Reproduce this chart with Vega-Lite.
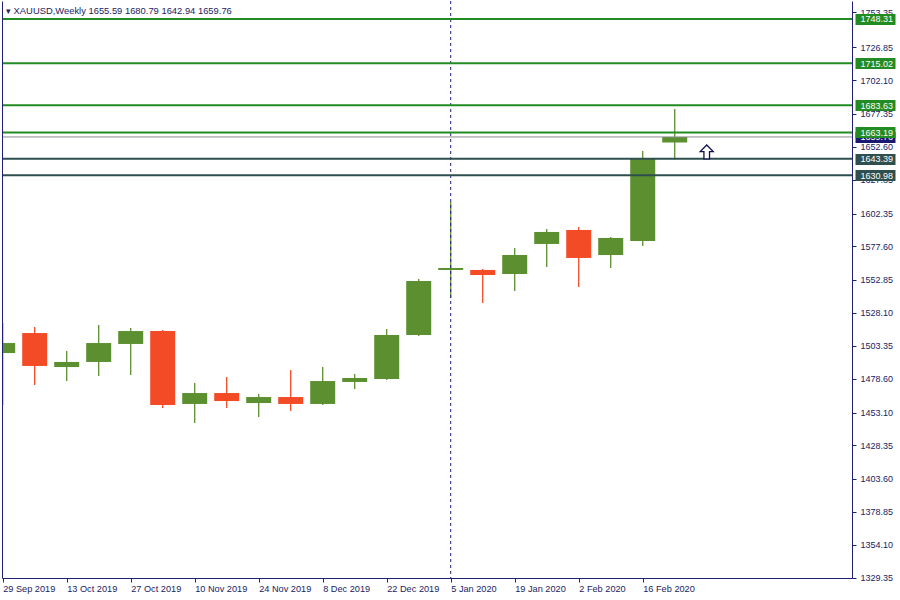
{
  "$schema": "https://vega.github.io/schema/vega-lite/v6.json",
  "width": 850,
  "height": 577,
  "autosize": {"type": "none"},
  "padding": {"left": 2, "top": 1, "right": 48, "bottom": 22},
  "background": "white",
  "title": {
    "text": "▾ XAUUSD,Weekly  1655.59 1680.79 1642.94 1659.76",
    "anchor": "start",
    "frame": "group",
    "orient": "top",
    "offset": 0,
    "baseline": "top",
    "dx": 4,
    "dy": 16,
    "font": "Liberation Sans",
    "fontSize": 9.4,
    "fontWeight": "normal",
    "color": "#22225e"
  },
  "datasets": {
    "candles": [
      {"date": "2019-09-29", "open": 1497.7, "high": 1520.2, "low": 1458.7, "close": 1505.2},
      {"date": "2019-10-06", "open": 1512.7, "high": 1517.2, "low": 1473.7, "close": 1488.0},
      {"date": "2019-10-13", "open": 1487.2, "high": 1499.2, "low": 1476.7, "close": 1491.0},
      {"date": "2019-10-20", "open": 1491.0, "high": 1518.7, "low": 1480.5, "close": 1505.2},
      {"date": "2019-10-27", "open": 1504.5, "high": 1516.5, "low": 1481.2, "close": 1514.2},
      {"date": "2019-11-03", "open": 1514.2, "high": 1515.0, "low": 1456.5, "close": 1458.7},
      {"date": "2019-11-10", "open": 1459.5, "high": 1475.2, "low": 1445.2, "close": 1467.7},
      {"date": "2019-11-17", "open": 1467.7, "high": 1479.7, "low": 1456.5, "close": 1461.7},
      {"date": "2019-11-24", "open": 1460.2, "high": 1467.0, "low": 1449.7, "close": 1464.7},
      {"date": "2019-12-01", "open": 1464.7, "high": 1485.0, "low": 1454.2, "close": 1459.5},
      {"date": "2019-12-08", "open": 1459.5, "high": 1487.2, "low": 1458.7, "close": 1476.7},
      {"date": "2019-12-15", "open": 1476.0, "high": 1482.0, "low": 1470.7, "close": 1479.0},
      {"date": "2019-12-22", "open": 1478.2, "high": 1515.7, "low": 1477.5, "close": 1511.2},
      {"date": "2019-12-29", "open": 1511.2, "high": 1553.2, "low": 1510.5, "close": 1551.7},
      {"date": "2020-01-05", "open": 1560.0, "high": 1611.0, "low": 1539.0, "close": 1561.5},
      {"date": "2020-01-12", "open": 1560.0, "high": 1560.7, "low": 1535.2, "close": 1556.2},
      {"date": "2020-01-19", "open": 1557.0, "high": 1576.5, "low": 1544.2, "close": 1571.2},
      {"date": "2020-01-26", "open": 1579.5, "high": 1590.7, "low": 1562.2, "close": 1588.5},
      {"date": "2020-02-02", "open": 1590.0, "high": 1592.2, "low": 1547.2, "close": 1569.0},
      {"date": "2020-02-09", "open": 1571.2, "high": 1584.7, "low": 1561.5, "close": 1584.0},
      {"date": "2020-02-16", "open": 1581.7, "high": 1649.2, "low": 1578.0, "close": 1643.2},
      {"date": "2020-02-23", "open": 1655.59, "high": 1680.79, "low": 1642.94, "close": 1659.76}
    ],
    "levels": [
      {"price": 1748.31, "kind": "resistance"},
      {"price": 1715.02, "kind": "resistance"},
      {"price": 1683.63, "kind": "resistance"},
      {"price": 1663.19, "kind": "resistance"},
      {"price": 1643.39, "kind": "support"},
      {"price": 1630.98, "kind": "support"}
    ],
    "bid": [{"price": 1659.76}],
    "separators": [{"date": "2020-01-05"}],
    "signals": [{"date": "2020-03-01", "price": 1648.5}]
  },
  "config": {
    "view": {"stroke": null},
    "axis": {"labelFont": "Liberation Sans", "grid": false, "title": null}
  },
  "resolve": {"axis": {"y": "independent"}},
  "layer": [
    {
      "data": {"name": "candles"},
      "mark": {"type": "rule", "strokeWidth": 1.3, "clip": true},
      "encoding": {
        "x": {
          "field": "date", "type": "temporal",
          "scale": {"type": "utc", "padding": 0, "nice": false, "domain": [
            {"year": 2019, "month": 9, "date": 28, "hours": 20, "minutes": 20, "utc": true},
            {"year": 2020, "month": 4, "date": 1, "hours": 18, "minutes": 40, "utc": true}
          ]},
          "axis": {
            "orient": "bottom",
            "values": [
              {"year": 2019, "month": 9, "date": 29, "utc": true},
              {"year": 2019, "month": 10, "date": 13, "utc": true},
              {"year": 2019, "month": 10, "date": 27, "utc": true},
              {"year": 2019, "month": 11, "date": 10, "utc": true},
              {"year": 2019, "month": 11, "date": 24, "utc": true},
              {"year": 2019, "month": 12, "date": 8, "utc": true},
              {"year": 2019, "month": 12, "date": 22, "utc": true},
              {"year": 2020, "month": 1, "date": 5, "utc": true},
              {"year": 2020, "month": 1, "date": 19, "utc": true},
              {"year": 2020, "month": 2, "date": 2, "utc": true},
              {"year": 2020, "month": 2, "date": 16, "utc": true}
            ],
            "format": "%-d %b %Y",
            "labelAlign": "left",
            "labelBaseline": "top",
            "labelPadding": 2,
            "tickSize": 4,
            "labelFlush": false,
            "labelOverlap": false,
            "domainColor": "#1f1f7a",
            "tickColor": "#1f1f7a",
            "labelColor": "#22225e",
            "labelFontSize": 9.2,
            "zindex": 1
          }
        },
        "y": {
          "field": "low", "type": "quantitative",
          "scale": {"domain": [1328.975, 1761.725], "nice": false, "zero": false},
          "axis": {
            "orient": "right",
            "values": [1329.35, 1354.10, 1378.85, 1403.60, 1428.35, 1453.10, 1478.60, 1503.35, 1528.10, 1552.85, 1577.60, 1602.35, 1627.85, 1652.60, 1677.35, 1702.10, 1726.85, 1753.35],
            "format": ".2f",
            "tickSize": 4,
            "labelPadding": 4,
            "labelOverlap": false,
            "labelFlush": false,
            "domainColor": "#1f1f7a",
            "tickColor": "#1f1f7a",
            "labelColor": "#22225e",
            "labelFontSize": 9,
            "zindex": 1
          }
        },
        "y2": {"field": "high"},
        "color": {"condition": {"test": "datum.close >= datum.open", "value": "#5b8f2f"}, "value": "#f24b25"}
      }
    },
    {
      "data": {"name": "candles"},
      "mark": {"type": "bar", "size": 25, "clip": true},
      "encoding": {
        "x": {"field": "date", "type": "temporal"},
        "y": {"field": "open", "type": "quantitative", "scale": {"domain": [1328.975, 1761.725], "nice": false, "zero": false}, "axis": null},
        "y2": {"field": "close"},
        "color": {"condition": {"test": "datum.close >= datum.open", "value": "#5b8f2f"}, "value": "#f24b25"}
      }
    },
    {
      "data": {"name": "separators"},
      "mark": {"type": "rule", "strokeDash": [3, 3], "color": "#1f1f7a", "strokeWidth": 1},
      "encoding": {
        "x": {"field": "date", "type": "temporal"}
      }
    },
    {
      "data": {"name": "bid"},
      "mark": {"type": "rule", "color": "#8a8a92", "strokeWidth": 1},
      "encoding": {
        "y": {
          "field": "price", "type": "quantitative",
          "scale": {"domain": [1328.975, 1761.725], "nice": false, "zero": false},
          "axis": {
            "orient": "right",
            "values": [1659.76],
            "format": ".2f",
            "offset": 3,
            "domain": false,
            "tickSize": 40,
            "tickWidth": 11,
            "tickColor": "#191970",
            "labelPadding": -35,
            "labelColor": "#ffffff",
            "labelFontSize": 9,
            "labelOverlap": false,
            "labelFlush": false,
            "zindex": 2
          }
        }
      }
    },
    {
      "data": {"name": "levels"},
      "mark": {"type": "rule", "strokeWidth": 2},
      "encoding": {
        "y": {
          "field": "price", "type": "quantitative",
          "scale": {"domain": [1328.975, 1761.725], "nice": false, "zero": false},
          "axis": {
            "orient": "right",
            "values": [1748.31, 1715.02, 1683.63, 1663.19, 1643.39, 1630.98],
            "format": ".2f",
            "offset": 3,
            "domain": false,
            "tickSize": 40,
            "tickWidth": 11,
            "tickColor": {"condition": {"test": "datum.value < 1650", "value": "#2f4f4f"}, "value": "#228b22"},
            "labelPadding": -35,
            "labelColor": "#ffffff",
            "labelFontSize": 9,
            "labelOverlap": false,
            "labelFlush": false,
            "zindex": 3
          }
        },
        "color": {"field": "kind", "type": "nominal", "scale": {"domain": ["resistance", "support"], "range": ["#228b22", "#2f4f4f"]}, "legend": null}
      }
    },
    {
      "data": {"name": "signals"},
      "mark": {
        "type": "point",
        "shape": "M0,-1L0.93,-0.05L0.4,-0.05L0.4,1L-0.4,1L-0.4,-0.05L-0.93,-0.05Z",
        "size": 196,
        "filled": true,
        "fill": "#ffffff",
        "stroke": "#10104a",
        "strokeWidth": 1.3,
        "opacity": 1
      },
      "encoding": {
        "x": {"field": "date", "type": "temporal"},
        "y": {
          "field": "price", "type": "quantitative",
          "scale": {"domain": [1328.975, 1761.725], "nice": false, "zero": false},
          "axis": {
            "orient": "left",
            "domain": true,
            "ticks": false,
            "labels": false,
            "domainColor": "#1f1f7a",
            "zindex": 1
          }
        }
      }
    }
  ]
}
